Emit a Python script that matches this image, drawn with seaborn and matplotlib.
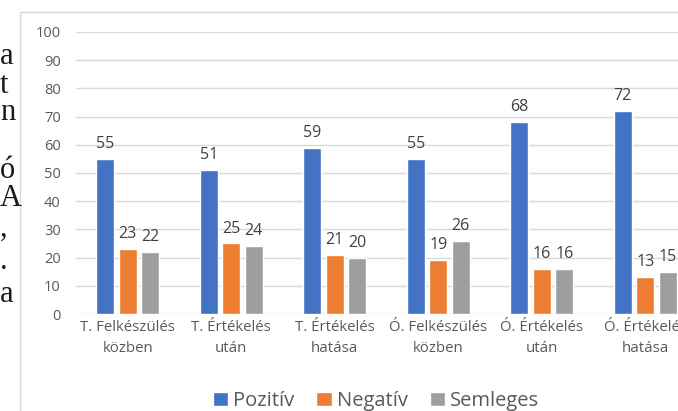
import matplotlib
matplotlib.use("Agg")
import matplotlib.pyplot as plt
import matplotlib.patches as mpatches
import seaborn as sns
import pandas as pd

categories = ["T. Felkészülés\nközben", "T. Értékelés\nután", "T. Értékelés\nhatása",
              "Ó. Felkészülés\nközben", "Ó. Értékelés\nután", "Ó. Értékelés\nhatása"]
series = ["Pozitív", "Negatív", "Semleges"]
pozitiv = [55, 51, 59, 55, 68, 72]
negativ = [23, 25, 21, 19, 16, 13]
semleges = [22, 24, 20, 26, 16, 15]
colors = ["#4472C4", "#ED7D31", "#9D9E9F"]
y_ticks = [0, 10, 20, 30, 40, 50, 60, 70, 80, 90, 100]
side_letters = ["a", "t", "n", "ó", "A", ",", ".", "a"]
side_baselines = [64, 93, 120, 178, 206, 236, 269, 302]

rows = []
for name, vals in zip(series, [pozitiv, negativ, semleges]):
    for c, v in zip(categories, vals):
        rows.append({"cat": c, "val": v, "series": name})
df = pd.DataFrame(rows)

sns.set_theme(style="white")
plt.rcParams["font.family"] = ["Open Sans", "DejaVu Sans"]

W, H = 678, 411
fig = plt.figure(figsize=(W / 100, H / 100), dpi=100)
fig.patch.set_facecolor("white")

# chart frame (cropped)
frame = mpatches.Rectangle((20 / W, -0.2), 1.2, 1 - 12 / H + 0.2, transform=fig.transFigure,
                           fill=False, edgecolor="#d9d9d9", lw=1.0, clip_on=False)
fig.patches.append(frame)

ax = fig.add_axes([76 / W, (H - 314) / H, 621 / W, 282 / H])
sns.barplot(data=df, x="cat", y="val", hue="series", order=categories, hue_order=series,
            palette=colors, saturation=1, width=0.652, gap=0.2, ax=ax, legend=True)

ax.set_ylim(0, 100)
ax.set_xlim(-0.5, len(categories) - 0.5)
ax.set_yticks(y_ticks)
ax.set_yticklabels([str(t) for t in y_ticks])
ax.set_xlabel("")
ax.set_ylabel("")
ax.grid(axis="y", color="#d9d9d9", lw=1.0)
ax.set_axisbelow(True)
for s in ax.spines.values():
    s.set_visible(False)
ax.tick_params(axis="y", length=0, pad=11, labelsize=10.5, labelcolor="#595959")
ax.tick_params(axis="x", length=0, pad=4, labelsize=10.8, labelcolor="#595959")
for lbl in ax.get_xticklabels():
    lbl.set_linespacing(1.55)

for cont in ax.containers:
    ax.bar_label(cont, padding=5, fontsize=11.5, color="#404040")

handles, labels = ax.get_legend_handles_labels()
ax.get_legend().remove()
fig.legend(handles, labels, loc="center", bbox_to_anchor=(376 / W, 1 - 401 / H), ncol=3,
           frameon=False, fontsize=14.5, handlelength=0.75, handleheight=0.75,
           handletextpad=0.25, columnspacing=1.1, labelcolor="#595959")

for ch, b in zip(side_letters, side_baselines):
    fig.text(0 / W, 1 - b / H, ch, family=["Liberation Serif", "DejaVu Serif"],
             fontsize=22, color="#1a1a1a", ha="left", va="baseline")

fig.savefig("out.png", dpi=100)
